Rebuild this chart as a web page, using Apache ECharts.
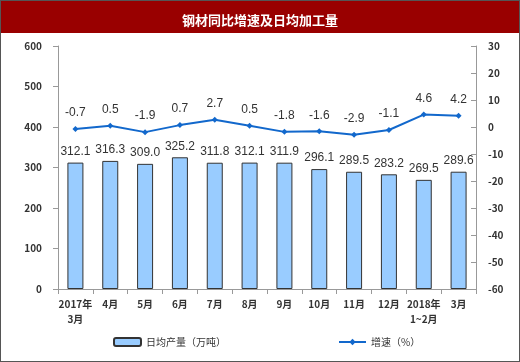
<!DOCTYPE html>
<html><head><meta charset="utf-8">
<script src="https://cdn.jsdelivr.net/npm/echarts@6/dist/echarts.min.js"></script>
<style>
html,body{margin:0;padding:0;background:#fff;}
#c{width:520px;height:362px;box-sizing:border-box;border:1px solid #555;}
</style></head><body>
<div id="c"></div>
<script>
const categories = ['2017年\n3月','4月','5月','6月','7月','8月','9月','10月','11月','12月','2018年\n1~2月','3月'];
const output = [312.1,316.3,309.0,325.2,311.8,312.1,311.9,296.1,289.5,283.2,269.5,289.6];
const growth = [-0.7,0.5,-1.9,0.7,2.7,0.5,-1.8,-1.6,-2.9,-1.1,4.6,4.2];
const titleText = '钢材同比增速及日均加工量';
const barName = '日均产量（万吨）';
const lineName = '增速（%）';

const chart = echarts.init(document.getElementById('c'), null, {renderer:'canvas'});
const axisLabelStyle = {color:'#333', fontSize:10, fontFamily:'Noto Sans CJK SC', fontWeight:'bold'};
const legendText = {color:'#333', fontSize:10, fontFamily:'Noto Sans CJK SC'};
chart.setOption({
  animation:false,
  graphic:[{type:'rect', left:0, top:0, shape:{width:520, height:32}, style:{fill:'#990000'}, silent:true}],
  title:{text:titleText, left:'center', top:8, textStyle:{color:'#fff', fontSize:13, fontWeight:'bold', fontFamily:'Noto Sans CJK SC'}},
  grid:{left:57, right:43, top:45, bottom:72},
  legend:[
    {data:[barName], left:112, top:336, padding:0, itemWidth:27, itemHeight:8, textStyle:legendText},
    {data:[lineName], left:337, top:336, padding:0, itemWidth:27, itemHeight:8, textStyle:legendText}
  ],
  xAxis:{type:'category', data:categories,
    axisLine:{lineStyle:{color:'#999'}}, axisTick:{show:true, lineStyle:{color:'#999'}},
    axisLabel:Object.assign({interval:0, margin:8, lineHeight:15}, axisLabelStyle)},
  yAxis:[
    {type:'value', min:0, max:600, interval:100, splitLine:{show:false},
      axisLine:{show:true, lineStyle:{color:'#999'}}, axisTick:{show:true, lineStyle:{color:'#999'}},
      axisLabel:Object.assign({margin:16}, axisLabelStyle)},
    {type:'value', min:-60, max:30, interval:10, splitLine:{show:false},
      axisLine:{show:true, lineStyle:{color:'#999'}}, axisTick:{show:true, inside:true, lineStyle:{color:'#999'}},
      axisLabel:Object.assign({margin:12}, axisLabelStyle)}
  ],
  series:[
    {name:barName, type:'bar', data:output, barWidth:16,
      itemStyle:{color:'#99ccff', borderColor:'#333', borderWidth:1},
      label:{show:true, position:'top', distance:5, color:'#333', fontSize:12, fontFamily:'Liberation Sans',
        formatter:p=>p.value.toFixed(1)}},
    {name:lineName, type:'line', yAxisIndex:1, data:growth, symbol:'diamond', symbolSize:6,
      lineStyle:{color:'#1268cc', width:2}, itemStyle:{color:'#1268cc'},
      label:{show:true, position:'top', distance:7, color:'#333', fontSize:12, fontFamily:'Liberation Sans',
        formatter:p=>p.value.toFixed(1)}}
  ]
});
</script></body></html>
